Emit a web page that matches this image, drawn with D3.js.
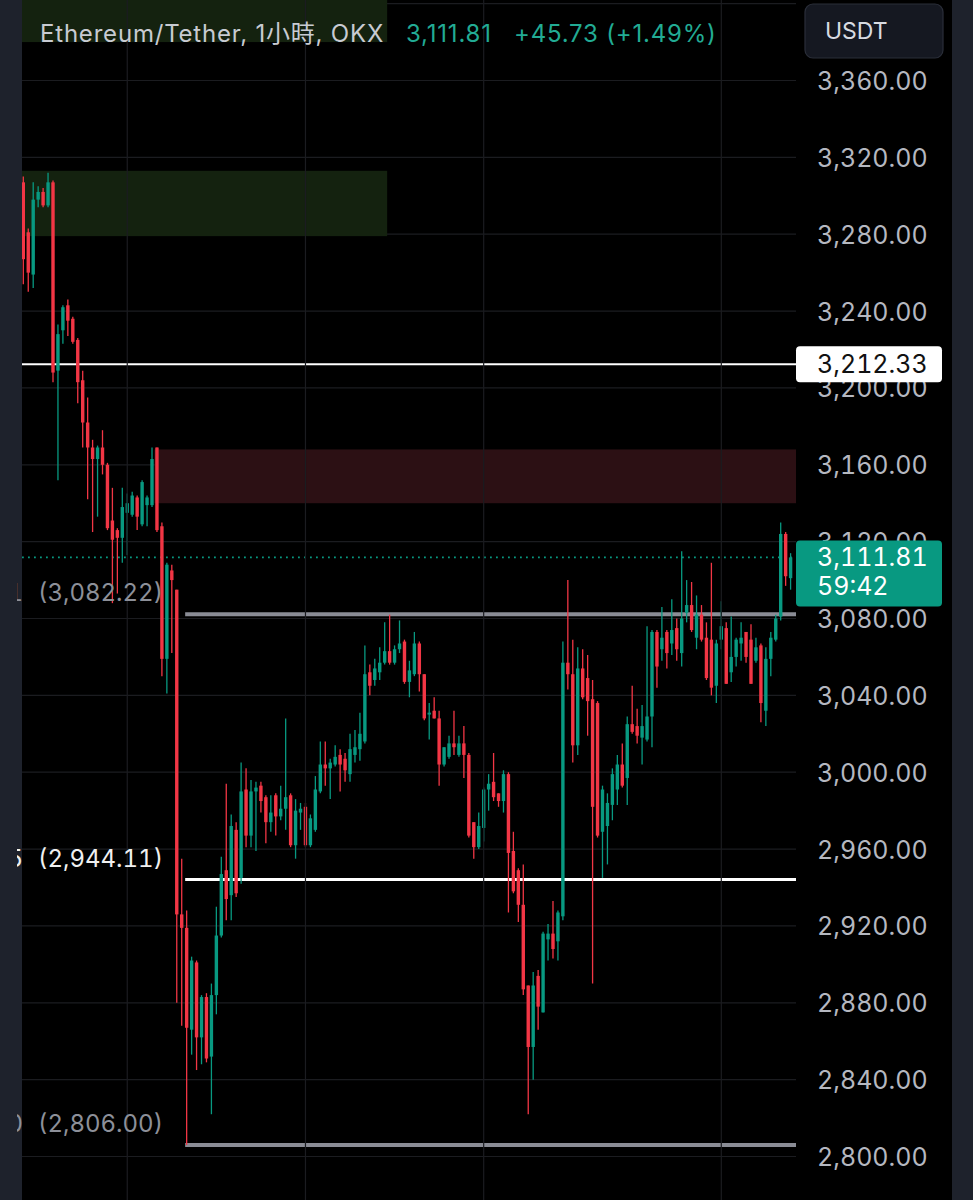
<!DOCTYPE html>
<html><head><meta charset="utf-8">
<script src="https://cdn.jsdelivr.net/npm/d3@7"></script>
<style>
html,body{margin:0;padding:0;background:#000;}
svg{display:block;}
text{font-family:Inter,'Noto Sans CJK TC',sans-serif;font-variant-numeric:tabular-nums;}
text.hdr{font-variant-numeric:normal;letter-spacing:0.8px;}
</style></head><body>
<svg id="c" width="973" height="1200"></svg>
<script>
// ---- data (ETH/USDT 1h, OKX) ----
const opens = [3307,3281,3259,3298,3302,3295,3307,3209,3230,3243,
3236,3225,3204,3182,3169,3163,3169,3160,3131,3126,
3122,3135,3134,3143,3129,3139,3139,3169,3128,3059,
3105,3095,2926,2919,2866,2901,2862,2883,2852,2884,
2915,2949,2936,2970,2945,2991,2967,2990,2993,2987,
2974,2988,2977,2981,2988,2962,2979,2982,2962,2970,
2990,3004,3002,3004,3009,3007,2999,3009,3012,3016,
3052,3048,3052,3057,3063,3057,3064,3068,3047,3051,
3067,3051,3030,3032,3028,3004,3008,3015,3009,3015,
3009,2974,2961,2971,2991,2995,2989,2985,2999,2959,
2949,2931,2889,2857,2894,2875,2913,2916,2912,2925,
3057,3051,3014,3054,3049,3038,3036,2969,2972,2983,
2991,3004,2997,3025,3024,3018,3017,3029,3073,3064,
3073,3067,3075,3062,3083,3087,3070,3082,3070,3069,
3045,3069,3075,3052,3060,3067,3073,3069,3058,3066,
3032,3059,3069,3081,3124,3101];
const highs = [3310,3283,3307,3305,3304,3312,3308,3233,3243,3246,
3237,3226,3209,3195,3173,3170,3178,3161,3148,3127,
3148,3145,3146,3144,3152,3144,3169,3169,3130,3109,
3108,3095,2955,2928,2904,2902,2884,2885,2890,2930,
2956,2994,2978,2974,3005,3002,2996,2995,2995,2988,
2988,2989,2993,3028,2989,2986,2984,2984,2978,2998,
3016,3016,3007,3014,3012,3010,3020,3022,3031,3066,
3056,3059,3065,3078,3082,3066,3079,3069,3058,3073,
3068,3051,3036,3039,3032,3013,3019,3032,3019,3024,
3010,2974,2979,2992,2999,3010,2989,3001,3000,2969,
2950,2952,2889,2896,2897,2917,2921,2933,2928,3068,
3100,3069,3065,3064,3061,3048,3037,2993,2989,3002,
3009,3015,3029,3045,3033,3035,3076,3074,3074,3086,
3074,3090,3080,3115,3100,3099,3092,3087,3078,3109,
3069,3089,3078,3081,3070,3078,3073,3077,3070,3067,
3065,3073,3082,3130,3125,3114];
const lows = [3254,3250,3252,3294,3294,3294,3203,3152,3223,3227,
3223,3192,3169,3142,3125,3133,3155,3126,3088,3093,
3109,3113,3133,3126,3128,3128,3138,3125,3050,3041,
3062,2880,2868,2806,2853,2845,2848,2849,2822,2874,
2914,2923,2923,2935,2942,2961,2961,2959,2979,2963,
2969,2967,2975,2970,2961,2955,2970,2961,2961,2969,
2989,2993,2986,3003,2990,2995,2995,3005,3006,3015,
3040,3045,3048,3056,3056,3056,3062,3046,3039,3050,
3042,3027,3017,3028,2993,3003,3007,3009,3008,2997,
2966,2955,2960,2964,2980,2985,2982,2979,2927,2937,
2922,2884,2822,2840,2866,2875,2902,2903,2902,2923,
3043,3005,3009,3038,3019,2890,2966,2945,2952,2975,
2983,2992,2983,3020,3015,3004,3016,3013,3044,3058,
3054,3061,3058,3055,3078,3073,3064,3068,3048,3040,
3036,3064,3046,3047,3055,3058,3057,3046,3057,3026,
3024,3050,3068,3079,3097,3095];
const closes = [3267,3260,3298,3302,3295,3307,3208,3228,3242,3235,
3224,3203,3182,3169,3163,3169,3160,3127,3121,3122,
3138,3140,3144,3133,3151,3143,3163,3126,3059,3108,
3100,2926,2919,2867,2902,2862,2883,2851,2884,2915,
2947,2934,2972,2937,2990,2967,2990,2992,2985,2974,
2979,2977,2981,2987,2962,2980,2981,2962,2976,2991,
3004,3002,3005,3008,3004,3001,3012,3013,3020,3051,
3045,3054,3057,3063,3057,3064,3067,3047,3053,3067,
3051,3028,3031,3028,3004,3013,3015,3013,3015,3009,
2967,2961,2972,2991,2994,2987,2985,2999,2958,2938,
2931,2887,2857,2889,2878,2916,2916,2908,2927,3057,
3051,3014,3054,3039,3037,2982,2967,2991,2984,2999,
3004,2993,3025,3021,3019,3024,3029,3073,3055,3070,
3062,3074,3064,3080,3087,3074,3082,3069,3049,3044,
3067,3076,3046,3060,3069,3070,3060,3046,3065,3036,
3059,3070,3080,3124,3102,3111.81];

const priceTicks = [2800,2840,2880,2920,2960,3000,3040,3080,3120,3160,3200,3240,3280,3320,3360];
const gridPrices = [2800,2840,2880,2920,2960,3000,3040,3080,3120,3160,3200,3240,3280,3320,3360,3400];
const timeGridIdx = [21,57,93,141];

// zones: [startIndex, endIndex(-1 = right edge), low, high]
const zoneStart = [0, 0, 27];
const zoneEnd = [73, 73, -1];
const zoneLow = [3380, 3279, 3140];
const zoneHigh = [3430, 3313, 3168];
const zoneColor = ['#14220f','#14220f','#2c1014'];

const hLinePrice = [3212.33];
const fibRatios = ['1','0.5','0'];
const fibPrices = [3082.22, 2944.11, 2806.00];
const fibStart = 33;
const lastPrice = 3111.81;
const countdown = '59:42';
const titleText = 'Ethereum/Tether, 1小時, OKX';
const titlePrice = '3,111.81';
const titleChange = '+45.73 (+1.49%)';
const quote = 'USDT';

// ---- layout ----
const W = 973, H = 1200, plotL = 22, plotR = 796;
const UP = '#089981', DOWN = '#f23645';
const svg = d3.select('#c');
const idx = d3.range(opens.length);
const x = d3.scalePoint().domain(idx).range([23.3, 790.6]);
const y = d3.scaleLinear().domain([2800, 3360]).range([1156.5, 80.5]);
const fmt = d3.format(',.2f');
const bodyW = 3.4;

svg.append('rect').attr('width', W).attr('height', H).attr('fill', '#000');

const defs = svg.append('defs');
defs.append('clipPath').attr('id','plot').append('rect')
  .attr('x', plotL).attr('y', 0).attr('width', plotR - plotL).attr('height', H);
defs.append('clipPath').attr('id','pref').append('rect')
  .attr('x', 17).attr('y', 0).attr('width', 40).attr('height', H);
const plot = svg.append('g').attr('clip-path','url(#plot)');

// grid
plot.selectAll('line.hg').data(gridPrices).join('line').attr('class','hg')
  .attr('x1', plotL).attr('x2', plotR).attr('y1', d => y(d)).attr('y2', d => y(d))
  .attr('stroke', '#1b1c20').attr('stroke-width', 1.2);
svg.selectAll('line.vg').data(timeGridIdx).join('line').attr('class','vg')
  .attr('x1', d => x(d)).attr('x2', d => x(d)).attr('y1', 0).attr('y2', H)
  .attr('stroke', '#1b1c20').attr('stroke-width', 1.2);

// zones
plot.selectAll('rect.zone').data(zoneStart.map((s, i) => i)).join('rect').attr('class','zone')
  .attr('x', i => x(zoneStart[i]) - x.step() / 2)
  .attr('width', i => (zoneEnd[i] < 0 ? plotR : x(zoneEnd[i]) + x.step() / 2) - (x(zoneStart[i]) - x.step() / 2))
  .attr('y', i => y(zoneHigh[i]))
  .attr('height', i => y(zoneLow[i]) - y(zoneHigh[i]))
  .attr('fill', i => zoneColor[i]);

// last price dotted line
plot.append('line').attr('x1', plotL).attr('x2', plotR)
  .attr('y1', y(lastPrice)).attr('y2', y(lastPrice))
  .attr('stroke', UP).attr('stroke-width', 1.8).attr('stroke-dasharray', '1.8,4.2');

// horizontal white level
plot.selectAll('line.lvl').data(hLinePrice).join('line').attr('class','lvl')
  .attr('x1', plotL).attr('x2', plotR).attr('y1', d => y(d)).attr('y2', d => y(d))
  .attr('stroke', '#ffffff').attr('stroke-width', 2);

// fib lines
const fibColor = ['#8a8c95', '#ffffff', '#8a8c95'];
const fibWidth = [4, 3, 4];
plot.selectAll('line.fib').data(fibPrices).join('line').attr('class','fib')
  .attr('x1', x(fibStart) - 1.5).attr('x2', plotR)
  .attr('y1', d => y(d)).attr('y2', d => y(d))
  .attr('stroke', (d, i) => fibColor[i]).attr('stroke-width', (d, i) => fibWidth[i]);

// fib labels (price part)
const fibTextColor = ['#8d9099', '#f0f0f0', '#8d9099'];
fibPrices.forEach((p, i) => {
  svg.append('text').attr('x', 38).attr('y', y(p) - 13)
    .attr('font-size', 24).attr('fill', fibTextColor[i]).text('(' + fmt(p) + ')');
});

// candles
const cg = plot.append('g');
const col = i => closes[i] >= opens[i] ? UP : DOWN;
cg.selectAll('line.wick').data(idx).join('line').attr('class','wick')
  .attr('x1', i => x(i)).attr('x2', i => x(i))
  .attr('y1', i => y(highs[i])).attr('y2', i => y(lows[i]))
  .attr('stroke', col).attr('stroke-width', 1.3);
cg.selectAll('rect.body').data(idx).join('rect').attr('class','body')
  .attr('x', i => x(i) - bodyW / 2).attr('width', bodyW)
  .attr('y', i => y(Math.max(opens[i], closes[i])))
  .attr('height', i => Math.max(1.2, Math.abs(y(opens[i]) - y(closes[i]))))
  .attr('fill', col);

// side strips
svg.append('rect').attr('x', 0).attr('y', 0).attr('width', plotL).attr('height', H).attr('fill', '#1e222c');
svg.append('rect').attr('x', 952).attr('y', 0).attr('width', W - 952).attr('height', H).attr('fill', '#1e222c');

// fib ratio prefixes, mostly scrolled out of view at the left edge
const pg = svg.append('g').attr('clip-path', 'url(#pref)');
fibPrices.forEach((p, i) => {
  pg.append('text').attr('x', 23).attr('y', y(p) - 13).attr('text-anchor','end')
    .attr('font-size', 24).attr('fill', fibTextColor[i]).text(fibRatios[i]);
});

// price axis
const axis = d3.axisRight(y).tickValues(priceTicks).tickSize(0).tickPadding(0).tickFormat(fmt);
const ag = svg.append('g').attr('transform', 'translate(817,0)').call(axis);
ag.select('.domain').remove();
ag.selectAll('text').attr('font-size', 25).attr('fill', '#b5b8c0')
  .style('font-family', "Inter, sans-serif").attr('dy', '0.36em');

// white level label
hLinePrice.forEach(p => {
  svg.append('rect').attr('x', plotR).attr('y', y(p) - 18).attr('width', 146).attr('height', 36)
    .attr('rx', 4).attr('fill', '#ffffff');
  svg.append('text').attr('x', 817).attr('y', y(p)).attr('dy', '0.36em')
    .attr('font-size', 25).attr('fill', '#111').text(fmt(p));
});

// last price label
svg.append('rect').attr('x', plotR).attr('y', y(lastPrice) - 17).attr('width', 146).attr('height', 66)
  .attr('rx', 4).attr('fill', UP);
svg.append('text').attr('x', 817).attr('y', y(lastPrice)).attr('dy', '0.36em')
  .attr('font-size', 25).attr('fill', '#fff').text(fmt(lastPrice));
svg.append('text').attr('x', 817).attr('y', y(lastPrice) + 29).attr('dy', '0.36em')
  .attr('font-size', 25).attr('fill', '#fff').text(countdown);

// header
svg.append('text').attr('class','hdr').attr('x', 40).attr('y', 42).attr('font-size', 24).attr('fill', '#c8cbd2').text(titleText);
svg.append('text').attr('class','hdr').attr('x', 406).attr('y', 42).attr('font-size', 24).attr('fill', '#22ab94').text(titlePrice);
svg.append('text').attr('class','hdr').attr('x', 514).attr('y', 42).attr('font-size', 24).attr('fill', '#22ab94').text(titleChange);

// quote button
svg.append('rect').attr('x', 805).attr('y', 4).attr('width', 138).attr('height', 54).attr('rx', 8)
  .attr('fill', '#151821').attr('stroke', '#2a2e39').attr('stroke-width', 1.2);
svg.append('text').attr('x', 825).attr('y', 31).attr('dy', '0.36em').attr('font-size', 23)
  .attr('fill', '#d8dbe2').text(quote);
</script>
</body></html>
